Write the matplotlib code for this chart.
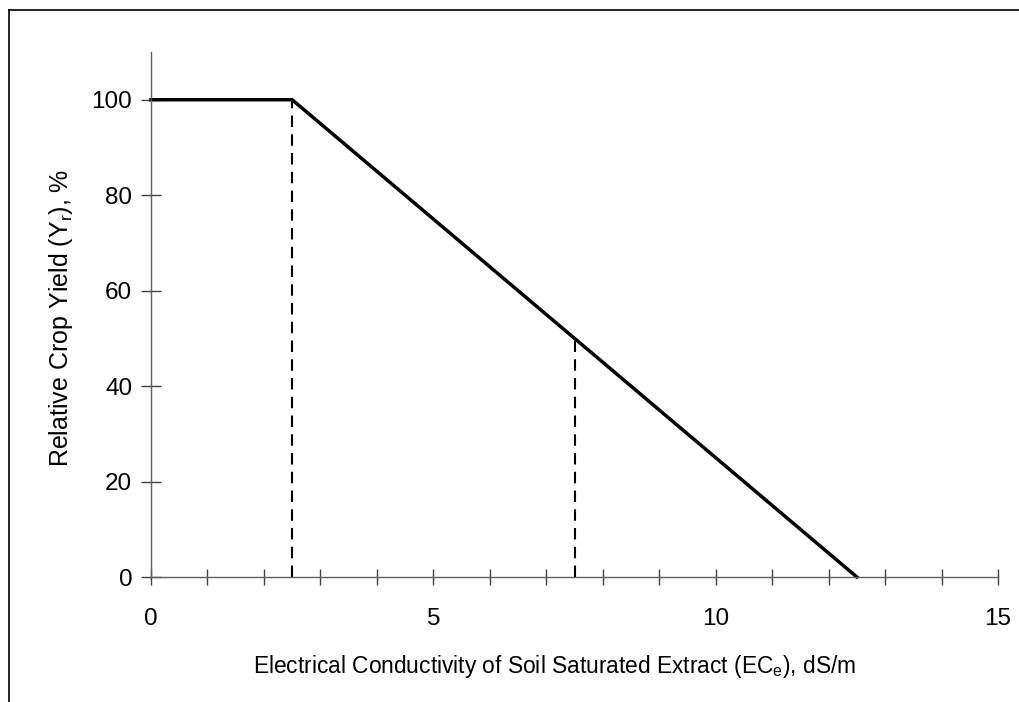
import numpy as np
import matplotlib
matplotlib.use('Agg')
import matplotlib.pyplot as plt
from matplotlib.lines import Line2D

plt.rcParams['font.family'] = ['Liberation Sans', 'DejaVu Sans']
plt.rcParams['mathtext.default'] = 'regular'

# yield response: threshold and slope
ec_curve = [0.0, 2.5, 12.5]
yield_curve = [100, 100, 0]
# dashed reference lines (x, top)
ref_x = [2.5, 7.5]
ref_top = [100, 50]

fig = plt.figure(figsize=(10.2, 7.02), dpi=100)
ax = fig.add_axes([151/1020, 1-577/702, (998-151)/1020, (577-52)/702])

ax.plot(ec_curve, yield_curve, color='black', lw=2.5, solid_joinstyle='miter', clip_on=False)
for x, top in zip(ref_x, ref_top):
    ax.plot([x, x], [0, top], color='black', lw=1.5, ls=(0, (5.5, 3.5)))

ax.set_xlim(0, 15)
ax.set_ylim(0, 110)
ax.set_xticks([0, 5, 10, 15])
ax.set_xticks(np.arange(0, 16, 1), minor=True)
ax.set_yticks(np.arange(0, 101, 20))

for s in ['top', 'right']:
    ax.spines[s].set_visible(False)
for s in ['left', 'bottom']:
    ax.spines[s].set_color('#606060')
    ax.spines[s].set_linewidth(1.0)

ax.tick_params(axis='x', which='both', direction='inout', length=12, width=1, color='#404040',
               labelsize=17.5, pad=16)
ax.tick_params(axis='y', which='major', direction='inout', length=15, width=1, color='#404040',
               labelsize=17.5, pad=6)

ax.set_xlabel('Electrical Conductivity of Soil Saturated Extract (EC$_e$), dS/m', fontsize=16.4, labelpad=17)
ax.set_ylabel('Relative Crop Yield (Y$_r$), %', fontsize=18, labelpad=12)
ax.xaxis.label.set_x(0.477)
ax.yaxis.label.set_y(0.493)

# outer frame (left and top edges)
fig.add_artist(Line2D([9/1020, 9/1020], [0, 1-10/702], color='black', lw=1.2, transform=fig.transFigure))
fig.add_artist(Line2D([9/1020, 1], [1-10/702, 1-10/702], color='black', lw=1.2, transform=fig.transFigure))

fig.savefig('out.png', dpi=100)
